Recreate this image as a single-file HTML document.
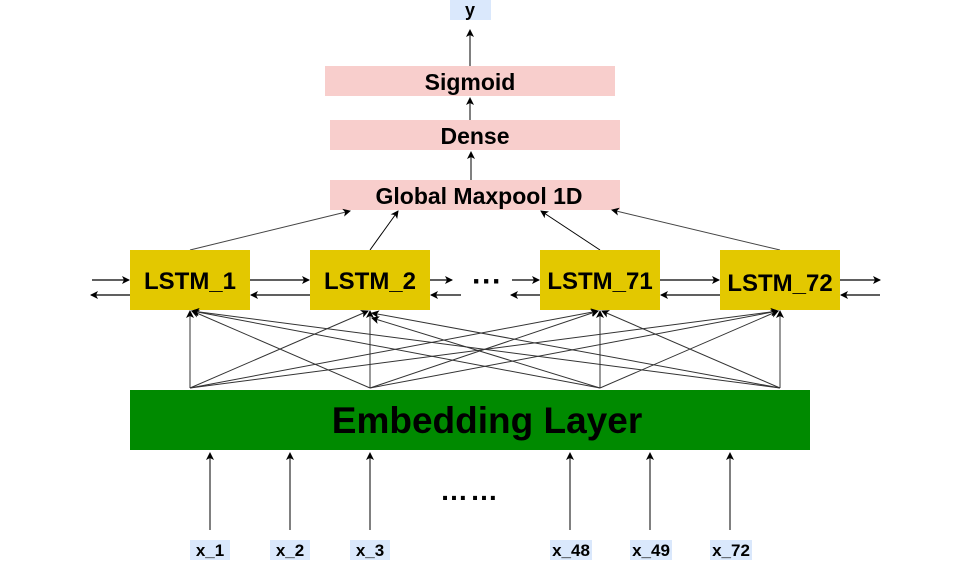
<!DOCTYPE html>
<html><head><style>
body{margin:0;background:#fff;width:972px;height:561px;overflow:hidden;font-family:"Liberation Sans",sans-serif;}
</style></head><body>
<svg width="972" height="561" xmlns="http://www.w3.org/2000/svg" font-family="Liberation Sans, sans-serif" font-weight="bold">
<defs><marker id="a" markerWidth="8" markerHeight="8" refX="7" refY="4" orient="auto" markerUnits="userSpaceOnUse"><path d="M0,0 L8,4 L0,8 L2,4z" fill="#000"/></marker></defs>
<rect x="450" y="0" width="41" height="20" fill="#dae8fc"/>
<text x="470" y="16" font-size="18" text-anchor="middle">y</text>
<rect x="325" y="66" width="290" height="30" fill="#f8cecc"/>
<text x="470" y="90" font-size="23" text-anchor="middle">Sigmoid</text>
<rect x="330" y="120" width="290" height="30" fill="#f8cecc"/>
<text x="475" y="144" font-size="23" text-anchor="middle">Dense</text>
<rect x="330" y="180" width="290" height="30" fill="#f8cecc"/>
<text x="479" y="204" font-size="23" text-anchor="middle">Global Maxpool 1D</text>
<g stroke="#000" stroke-width="1" marker-end="url(#a)">
<line x1="470" y1="66" x2="470" y2="30"/>
<line x1="470" y1="120" x2="470" y2="98"/>
<line x1="471" y1="180" x2="471" y2="152"/>
<line x1="190" y1="250" x2="350" y2="211" stroke="#444"/>
<line x1="370" y1="250" x2="398" y2="211"/>
<line x1="600" y1="250" x2="541" y2="211"/>
<line x1="780" y1="250" x2="612" y2="210" stroke="#444"/>
</g>
<g fill="#e3c800"><rect x="130" y="250" width="120" height="60"/><rect x="310" y="250" width="120" height="60"/><rect x="540" y="250" width="120" height="60"/><rect x="720" y="250" width="120" height="60"/></g>
<g font-size="24" text-anchor="middle"><text x="190" y="289">LSTM_1</text><text x="370" y="289">LSTM_2</text><text x="600" y="289">LSTM_71</text><text x="780" y="291">LSTM_72</text></g>
<text x="487" y="291" font-size="30" text-anchor="middle">···</text>
<g stroke="#000" stroke-width="1.2" marker-end="url(#a)">
<line x1="92" y1="280" x2="129" y2="280"/><line x1="130" y1="295" x2="91" y2="295"/>
<line x1="250" y1="280" x2="309" y2="280"/><line x1="310" y1="295" x2="251" y2="295"/>
<line x1="430" y1="280" x2="452" y2="280"/><line x1="461" y1="295" x2="431" y2="295"/>
<line x1="512" y1="280" x2="539" y2="280"/><line x1="540" y1="295" x2="511" y2="295"/>
<line x1="660" y1="280" x2="719" y2="280"/><line x1="720" y1="295" x2="661" y2="295"/>
<line x1="840" y1="280" x2="880" y2="280"/><line x1="880" y1="295" x2="841" y2="295"/>
</g>
<g stroke="#333" stroke-width="1" marker-end="url(#a)">
<line x1="190" y1="388" x2="190" y2="311"/><line x1="190" y1="388" x2="368" y2="311"/><line x1="190" y1="388" x2="598" y2="311"/><line x1="190" y1="388" x2="778" y2="311"/>
<line x1="370" y1="388" x2="192" y2="311"/><line x1="370" y1="388" x2="370" y2="311"/><line x1="370" y1="388" x2="598" y2="311"/><line x1="370" y1="388" x2="778" y2="311"/>
<line x1="600" y1="388" x2="192" y2="311"/><line x1="600" y1="388" x2="372" y2="318"/><line x1="600" y1="388" x2="600" y2="311"/><line x1="600" y1="388" x2="778" y2="311"/>
<line x1="780" y1="388" x2="192" y2="311"/><line x1="780" y1="388" x2="372" y2="313"/><line x1="780" y1="388" x2="602" y2="311"/><line x1="780" y1="388" x2="780" y2="311"/>
</g>
<rect x="130" y="390" width="680" height="60" fill="#008a00"/>
<text x="487" y="433" font-size="37" text-anchor="middle">Embedding Layer</text>
<g stroke="#000" stroke-width="1" marker-end="url(#a)">
<line x1="210" y1="530" x2="210" y2="453"/><line x1="290" y1="530" x2="290" y2="453"/><line x1="370" y1="530" x2="370" y2="453"/>
<line x1="570" y1="530" x2="570" y2="453"/><line x1="650" y1="530" x2="650" y2="453"/><line x1="730" y1="530" x2="730" y2="453"/>
</g>
<text x="470" y="500" font-size="28" text-anchor="middle" letter-spacing="2">……</text>
<g fill="#dae8fc"><rect x="190" y="540" width="40" height="20"/><rect x="270" y="540" width="40" height="20"/><rect x="350" y="540" width="40" height="20"/><rect x="550" y="540" width="42" height="20"/><rect x="630" y="540" width="42" height="20"/><rect x="710" y="540" width="42" height="20"/></g>
<g font-size="17" text-anchor="middle"><text x="210" y="556">x_1</text><text x="290" y="556">x_2</text><text x="370" y="556">x_3</text><text x="571" y="556">x_48</text><text x="651" y="556">x_49</text><text x="731" y="556">x_72</text></g>
</svg>
</body></html>
